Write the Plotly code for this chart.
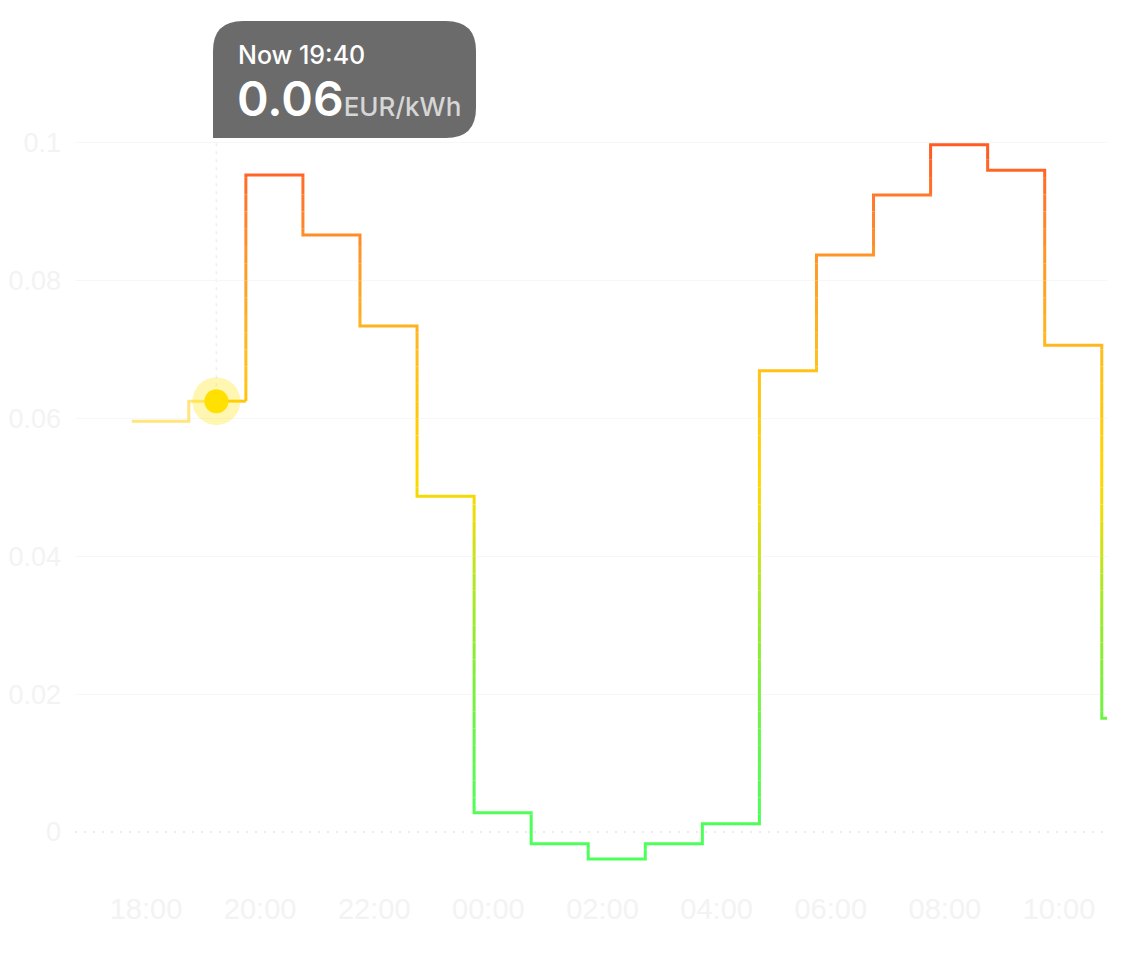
import numpy as np
import pandas as pd
import plotly.graph_objects as go

# ---------------- data ----------------
period_start = [
    "2024-01-01 17:45", "2024-01-01 18:45", "2024-01-01 19:45", "2024-01-01 20:45",
    "2024-01-01 21:45", "2024-01-01 22:45", "2024-01-01 23:45", "2024-01-02 00:45",
    "2024-01-02 01:45", "2024-01-02 02:45", "2024-01-02 03:45", "2024-01-02 04:45",
    "2024-01-02 05:45", "2024-01-02 06:45", "2024-01-02 07:45", "2024-01-02 08:45",
    "2024-01-02 09:45", "2024-01-02 10:45",
]
last_period_end = "2024-01-02 11:45"
price = [0.0596, 0.0625, 0.0953, 0.0866, 0.0734, 0.0487, 0.0028, -0.0017,
         -0.0039, -0.0017, 0.0012, 0.0669, 0.0837, 0.0924, 0.0997, 0.0960,
         0.0706, 0.0165]
now_time = "2024-01-01 19:14"
now_index = 1
now_title = "Now 19:40"
now_value_text = "0.06"
unit_text = "EUR/kWh"
y_ticks = [0, 0.02, 0.04, 0.06, 0.08, 0.1]
x_range = ["2024-01-01 16:45:20", "2024-01-02 10:50:30"]
y_range = [-0.00696, 0.10183]

# ---------------- layout geometry ----------------
W, H = 1121, 977
OFF = 8  # page body margin
ML, MR, MT, MB = 75 - OFF, 22, 130 - OFF, 105
PW, PH = W - ML - MR, H - MT - MB


def px2paper(px, py):
    # px, py are screen pixels
    return (px - OFF - ML) / PW, (H - MB - (py - OFF)) / PH


# ---------------- colour scale (value -> colour) ----------------
stops = [
    (-0.01, (76, 255, 90)), (0.000, (76, 255, 90)), (0.012, (95, 248, 75)),
    (0.022, (124, 239, 58)), (0.035, (170, 232, 35)), (0.046, (235, 220, 8)),
    (0.052, (255, 215, 0)), (0.062, (255, 198, 10)), (0.068, (255, 192, 25)),
    (0.074, (255, 176, 32)), (0.085, (255, 145, 40)), (0.092, (255, 118, 42)),
    (0.100, (255, 86, 34)), (0.11, (255, 86, 34)),
]


def colour(v):
    sv = [s[0] for s in stops]
    rgb = [np.interp(v, sv, [s[1][k] for s in stops]) for k in range(3)]
    return "rgb(%d,%d,%d)" % tuple(int(round(c)) for c in rgb)


ts = [pd.Timestamp(t) for t in period_start]
t_end = pd.Timestamp(last_period_end)
t_now = pd.Timestamp(now_time)
now_val = price[now_index]

# ---------------- past (pale) path ----------------
past_x, past_y = [ts[0]], [price[0]]
for i in range(1, now_index + 1):
    past_x += [ts[i], ts[i]]
    past_y += [price[i - 1], price[i]]
past_x.append(t_now)
past_y.append(now_val)

# ---------------- future path, split into colour bands ----------------
verts = [(t_now, now_val)]
for i in range(now_index + 1, len(price)):
    verts.append((ts[i], price[i - 1]))
    verts.append((ts[i], price[i]))
verts.append((t_end, price[-1]))

B0, BW = -0.01, 0.0025


def band_of(y):
    return int(np.floor((y - B0) / BW))


pieces = []
for (x0, y0), (x1, y1) in zip(verts[:-1], verts[1:]):
    if y0 == y1:
        pieces.append((x0, y0, x1, y1, band_of(y0)))
    else:
        lo, hi = min(y0, y1), max(y0, y1)
        edges = [B0 + k * BW for k in range(band_of(lo) + 1, band_of(hi) + 1)]
        pts = [y0] + (edges if y1 > y0 else edges[::-1]) + [y1]
        for a, b in zip(pts[:-1], pts[1:]):
            pieces.append((x0, a, x1, b, band_of((a + b) / 2)))

polylines = []
for x0, y0, x1, y1, b in pieces:
    if polylines and polylines[-1][0] == b:
        polylines[-1][1].append((x1, y1))
    else:
        polylines.append([b, [(x0, y0), (x1, y1)]])

bands = {}
for b, pts in polylines:
    bx, by = bands.setdefault(b, ([], []))
    if bx:
        bx.append(None)
        by.append(None)
    bx += [p[0] for p in pts]
    by += [p[1] for p in pts]

fig = go.Figure()

fig.add_trace(go.Scatter(x=past_x, y=past_y, mode="lines",
                         line=dict(color="#FFE57C", width=3, shape="linear"),
                         hoverinfo="skip", showlegend=False))

for b in sorted(bands):
    bx, by = bands[b]
    fig.add_trace(go.Scatter(x=bx, y=by, mode="lines",
                             line=dict(color=colour(B0 + (b + 0.5) * BW), width=3),
                             hoverinfo="skip", showlegend=False))

# now marker: halo + dot
fig.add_trace(go.Scatter(x=[t_now], y=[now_val], mode="markers",
                         marker=dict(size=48, color="rgba(255,224,0,0.30)", line=dict(width=0)),
                         hoverinfo="skip", showlegend=False))
fig.add_trace(go.Scatter(x=[t_now], y=[now_val], mode="markers",
                         marker=dict(size=24, color="#FFE000", line=dict(width=0)),
                         hoverinfo="skip", showlegend=False))

shapes = []
# dotted zero line
shapes.append(dict(type="line", xref="paper", yref="y", x0=0, x1=1, y0=0, y1=0,
                   line=dict(color="#ececec", width=2, dash="2px,7px"), layer="below"))
# dotted vertical "now" line
shapes.append(dict(type="line", xref="x", yref="paper", x0=t_now, x1=t_now,
                   y0=(now_val - y_range[0]) / (y_range[1] - y_range[0]) + 0.02, y1=1,
                   line=dict(color="#eeeeee", width=1.5, dash="3px,5px"), layer="below"))

# tooltip box (screen pixels)
L, R, T, Bt, r = 213, 476, 21, 138, 30


def P(px, py):
    a, b = px2paper(px, py)
    return "%.5f,%.5f" % (a, b)


path = ("M " + P(L, Bt) + " L " + P(L, T + r) + " Q " + P(L, T) + " " + P(L + r, T) +
        " L " + P(R - r, T) + " Q " + P(R, T) + " " + P(R, T + r) +
        " L " + P(R, Bt - r) + " Q " + P(R, Bt) + " " + P(R - r, Bt) + " Z")
shapes.append(dict(type="path", xref="paper", yref="paper", path=path,
                   fillcolor="#6b6b6b", line=dict(width=0), layer="above"))

ax1, ay1 = px2paper(236, 55)
ax2, ay2 = px2paper(235, 99)
annotations = [
    dict(xref="paper", yref="paper", x=ax1, y=ay1, xanchor="left", yanchor="middle",
         showarrow=False, text=now_title,
         font=dict(family="Inter, Noto Sans, sans-serif", size=25, color="#ffffff", weight=500)),
    dict(xref="paper", yref="paper", x=ax2, y=ay2, xanchor="left", yanchor="middle",
         showarrow=False,
         text=now_value_text + "<span style='font-size:26px;color:#d6d6d6;font-weight:500'>"
         + unit_text + "</span>",
         font=dict(family="Inter, Noto Sans, sans-serif", size=48, color="#ffffff", weight=600)),
]

fig.update_layout(
    width=W, height=H,
    margin=dict(l=ML, r=MR, t=MT, b=MB, autoexpand=False),
    paper_bgcolor="white", plot_bgcolor="white",
    shapes=shapes, annotations=annotations,
    showlegend=False,
    xaxis=dict(type="date", range=x_range, tickformat="%H:%M",
               tick0="2024-01-01 18:00", dtick=2 * 3600 * 1000,
               showgrid=False, zeroline=False, showline=False, ticks="",
               ticklabelstandoff=9,
               tickfont=dict(family="Liberation Sans, Arial, sans-serif", size=29, color="#f3f3f3")),
    yaxis=dict(range=y_range, tickvals=y_ticks, ticktext=[str(v) for v in y_ticks],
               showgrid=True, gridcolor="#f7f7f7", gridwidth=1,
               zeroline=True, zerolinecolor="rgba(0,0,0,0)",
               showline=False, ticks="", ticklabelstandoff=13,
               tickfont=dict(family="Liberation Sans, Arial, sans-serif", size=27, color="#f3f3f3")),
)

fig.write_html("out.html")
